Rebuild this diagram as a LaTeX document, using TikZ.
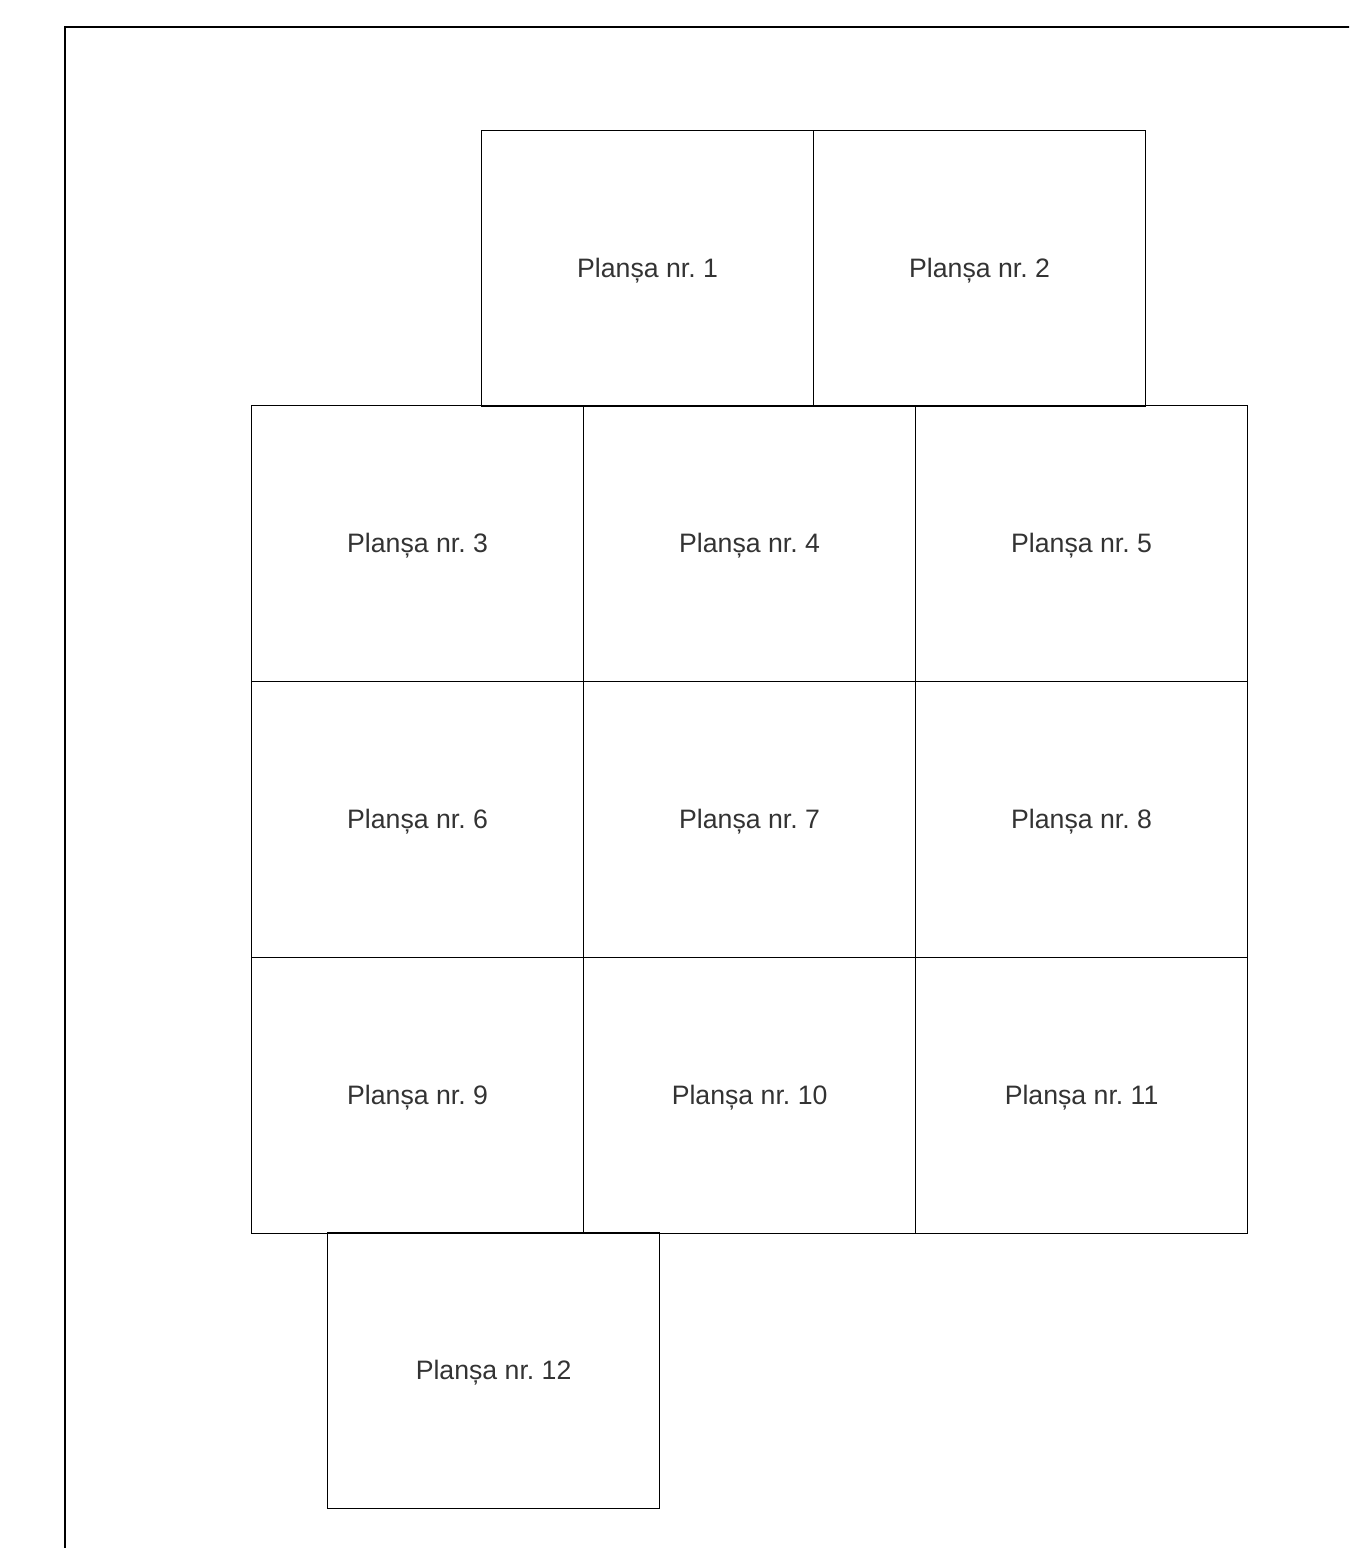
\documentclass[tikz,border=0pt]{standalone}
\usepackage{fontspec}
\setmainfont{Liberation Sans}
\frenchspacing
\begin{document}
\begin{tikzpicture}[x=0.75pt,y=-0.75pt,
  plansa/.style={draw=black,line width=0.9pt,minimum width=332*0.75pt,minimum height=276*0.75pt,
    inner sep=0pt,anchor=north west,font=\fontsize{20}{23}\selectfont\frenchspacing,text=black!80,
    text depth=1.5pt},
  frame/.style={draw=black,line width=2.2pt}]
\useasboundingbox (0,0) rectangle (1349,1548);
\clip (0,0) rectangle (1349,1548);
\coordinate (fb) at (65,1560);
\coordinate (ft) at (65,27);
\coordinate (fr) at (1360,27);
\draw[frame] (fb) -- (ft) -- (fr);
\node[plansa] (p1) at (481,130) {Planșa nr. 1};
\node[plansa] (p2) at (813,130) {Planșa nr. 2};
\node[plansa] (p3) at (251,405) {Planșa nr. 3};
\node[plansa] (p4) at (583,405) {Planșa nr. 4};
\node[plansa] (p5) at (915,405) {Planșa nr. 5};
\node[plansa] (p6) at (251,681) {Planșa nr. 6};
\node[plansa] (p7) at (583,681) {Planșa nr. 7};
\node[plansa] (p8) at (915,681) {Planșa nr. 8};
\node[plansa] (p9) at (251,957) {Planșa nr. 9};
\node[plansa] (p10) at (583,957) {Planșa nr. 10};
\node[plansa] (p11) at (915,957) {Planșa nr. 11};
\node[plansa] (p12) at (327,1232) {Planșa nr. 12};
\end{tikzpicture}
\end{document}
